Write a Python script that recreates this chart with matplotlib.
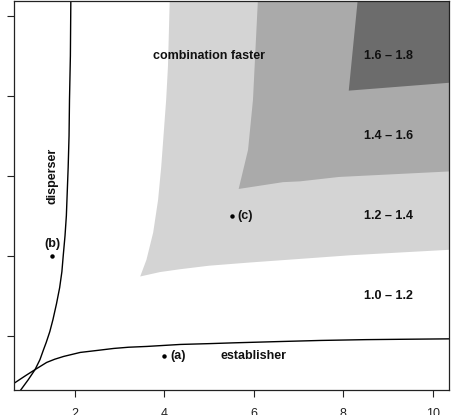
import matplotlib
matplotlib.use("Agg")
import matplotlib.pyplot as plt
from matplotlib.patches import Polygon

plt.rcParams['font.family'] = ['Liberation Sans', 'DejaVu Sans']

# ---- data ----
x_ticks = [2, 4, 6, 8, 10]
y_ticks = [2, 4, 6, 8, 10]

# "disperser" isocline (x, y)
disp_x = [0.79, 0.96, 1.11, 1.22, 1.30, 1.36, 1.44, 1.51, 1.59, 1.66, 1.71, 1.74,
          1.78, 1.81, 1.83, 1.85, 1.87, 1.88, 1.90, 1.91]
disp_y = [0.64, 0.90, 1.15, 1.40, 1.65, 1.83, 2.10, 2.40, 2.80, 3.20, 3.60, 4.00,
          4.50, 5.00, 5.60, 6.20, 7.00, 7.90, 9.00, 10.40]

# "establisher" isocline (x, y)
est_x = [0.63, 0.90, 1.11, 1.37, 1.55, 1.75, 2.12, 2.50, 2.87, 3.20, 3.61, 4.36,
         5.00, 5.55, 6.50, 7.50, 8.50, 9.40, 10.40]
est_y = [0.80, 1.00, 1.15, 1.33, 1.41, 1.48, 1.58, 1.63, 1.68, 1.71, 1.73, 1.78,
         1.80, 1.82, 1.85, 1.88, 1.90, 1.91, 1.92]

# contour band boundaries (left edge going down to corner, then bottom edge to the right)
band_colors = ["#d4d4d4", "#aaaaaa", "#6c6c6c"]

light_left_x = [4.12, 4.08, 4.04, 3.93, 3.86, 3.75, 3.60, 3.46]
light_left_y = [10.40, 8.73, 7.90, 6.23, 5.40, 4.58, 3.90, 3.48]
light_bot_x = [3.46, 3.90, 4.34, 5.00, 5.91, 7.03, 8.14, 9.26, 10.40]
light_bot_y = [3.48, 3.59, 3.66, 3.75, 3.83, 3.92, 4.01, 4.08, 4.15]

med_left_x = [6.09, 5.98, 5.87, 5.66]
med_left_y = [10.40, 7.90, 6.65, 5.67]
med_bot_x = [5.66, 6.65, 7.03, 7.90, 10.40]
med_bot_y = [5.67, 5.84, 5.86, 5.97, 6.11]

dark_left_x = [8.32, 8.12]
dark_left_y = [10.40, 8.13]
dark_bot_x = [8.12, 10.40]
dark_bot_y = [8.13, 8.33]

# labelled points
pt_labels = ["(a)", "(b)", "(c)"]
pt_x = [4.0, 1.5, 5.5]
pt_y = [1.5, 4.0, 5.0]

band_text = ["1.0 – 1.2", "1.2 – 1.4", "1.4 – 1.6", "1.6 – 1.8"]
band_text_x = [9.0, 9.0, 9.0, 9.0]
band_text_y = [3.0, 5.0, 7.0, 9.0]

# ---- figure ----
W, H = 456, 415
fig = plt.figure(figsize=(W / 100, H / 100), dpi=100)
ax = fig.add_axes([14 / W, (H - 390) / H, 435 / W, 388.5 / H])
ax.set_xlim(0.64, 10.36)
ax.set_ylim(0.64, 10.36)

bands = [
    (light_left_x, light_left_y, light_bot_x, light_bot_y),
    (med_left_x, med_left_y, med_bot_x, med_bot_y),
    (dark_left_x, dark_left_y, dark_bot_x, dark_bot_y),
]
for (lx, ly, bx, by), col in zip(bands, band_colors):
    pts = [(lx[0], 11.0)] + list(zip(lx, ly)) + list(zip(bx[1:], by[1:])) + [(11.0, by[-1]), (11.0, 11.0)]
    ax.add_patch(Polygon(pts, closed=True, facecolor=col, edgecolor='none', zorder=1))

ax.plot(disp_x, disp_y, color='black', lw=1.0, zorder=3, solid_joinstyle='round')
ax.plot(est_x, est_y, color='black', lw=1.0, zorder=3, solid_joinstyle='round')

ax.plot(pt_x, pt_y, 'o', color='black', ms=3.2, zorder=4, markeredgewidth=0)
tk = dict(fontsize=9, fontweight='bold', color='#111111')
# (a) right, (b) above, (c) right
ax.annotate(pt_labels[0], (pt_x[0], pt_y[0]), xytext=(4.5, 0), textcoords='offset points',
            ha='left', va='center', **tk)
ax.annotate(pt_labels[1], (pt_x[1], pt_y[1]), xytext=(0, 8.5), textcoords='offset points',
            ha='center', va='center', **tk)
ax.annotate(pt_labels[2], (pt_x[2], pt_y[2]), xytext=(4.0, 0), textcoords='offset points',
            ha='left', va='center', **tk)

for t, x, y in zip(band_text, band_text_x, band_text_y):
    ax.text(x, y, t, ha='center', va='center', **tk)
ax.text(5.0, 9.0, "combination faster", ha='center', va='center', **tk)
ax.text(6.0, 1.5, "establisher", ha='center', va='center', **tk)
ax.text(1.5, 6.0, "disperser", ha='center', va='center', rotation=90, **tk)

ax.set_xticks(x_ticks)
ax.set_xticklabels([str(v) for v in x_ticks])
ax.set_yticks(y_ticks)
ax.tick_params(axis='x', length=5, width=0.8, pad=8, labelsize=9, colors='#222222')
ax.tick_params(axis='y', length=5, width=0.8, labelleft=False, colors='#222222')
for s in ax.spines.values():
    s.set_linewidth(0.9)
    s.set_color('#222222')
    s.set_zorder(5)

fig.savefig("out.png", dpi=100)
